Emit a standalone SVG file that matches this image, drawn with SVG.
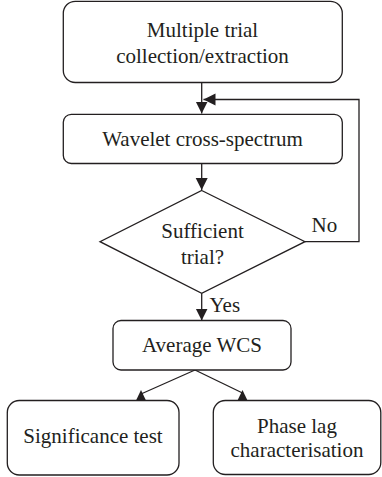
<svg xmlns="http://www.w3.org/2000/svg" width="382" height="477" viewBox="0 0 382 477" font-family="'Liberation Serif', 'DejaVu Serif', serif">
<style>
.box{fill:#fff;stroke:#231f20;stroke-width:1.3}
.ln{fill:none;stroke:#231f20;stroke-width:1.3}
.hd{fill:#231f20;stroke:none}
text{font-family:'Liberation Serif','DejaVu Serif',serif;font-size:21px;fill:#231f20;text-anchor:middle}
.l{text-anchor:start}
</style>
<defs>
<marker id="arr" markerUnits="userSpaceOnUse" markerWidth="14" markerHeight="14" refX="12" refY="6" orient="auto">
<path d="M0,0 L12,6 L0,12 Z" fill="#231f20"/>
</marker>
</defs>
<rect width="382" height="477" fill="#fff"/>
<g id="connectors">
<line class="ln" x1="201.7" y1="82.5" x2="201.7" y2="113.5" marker-end="url(#arr)"/>
<polyline class="ln" points="305,241.7 359,241.7 359,99.5 203.5,99.5" marker-end="url(#arr)"/>
<line class="ln" x1="201.7" y1="163.5" x2="201.7" y2="190" marker-end="url(#arr)"/>
<line class="ln" x1="201.7" y1="293.3" x2="201.7" y2="320.5" marker-end="url(#arr)"/>
<line class="ln" x1="195" y1="370" x2="141" y2="394"/>
<polygon class="hd" points="136,400.5 146,400.5 141,390"/>
<line class="ln" x1="195" y1="370" x2="242.5" y2="393"/>
<polygon class="hd" points="237.5,400.5 247.5,400.5 242.5,390"/>
<text x="311.5" y="232.3" class="l">No</text>
<text x="209.5" y="311.7" class="l">Yes</text>
</g>
<g id="n1">
<rect class="box" x="63.3" y="1.3" width="279" height="81.2" rx="12"/>
<text x="202.5" y="37">Multiple trial</text>
<text x="202.5" y="63">collection/extraction</text>
</g>
<g id="n2">
<rect class="box" x="63.3" y="114.3" width="279" height="49.2" rx="8"/>
<text x="202.5" y="146">Wavelet cross-spectrum</text>
</g>
<g id="n3">
<polygon class="box" points="201.7,190.5 305,241.7 201.7,293.3 100,241.7"/>
<text x="202.5" y="237.5">Sufficient</text>
<text x="202.5" y="264">trial?</text>
</g>
<g id="n4">
<rect class="box" x="113" y="320.5" width="178" height="49.5" rx="8"/>
<text x="202" y="352">Average WCS</text>
</g>
<g id="n5">
<rect class="box" x="7.3" y="400.5" width="171.7" height="74.5" rx="12"/>
<text x="93" y="443">Significance test</text>
</g>
<g id="n6">
<rect class="box" x="213.3" y="400.5" width="167.5" height="74" rx="12"/>
<text x="297" y="433">Phase lag</text>
<text x="297" y="457">characterisation</text>
</g>
</svg>
